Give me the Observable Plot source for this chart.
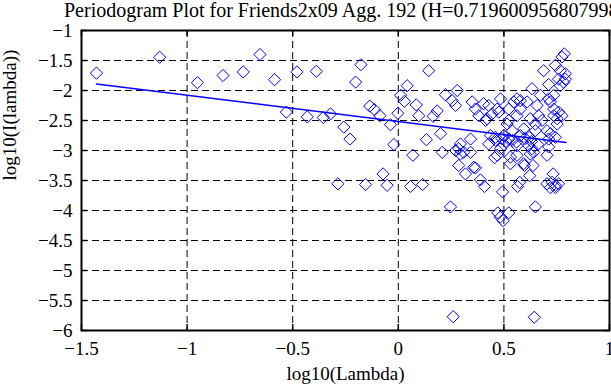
<!DOCTYPE html>
<html>
<head>
<meta charset="utf-8">
<script src="https://cdn.jsdelivr.net/npm/d3@7"></script>
<script src="https://cdn.jsdelivr.net/npm/@observablehq/plot@0.6"></script>
<style>
  body { margin: 0; background: white; }
  #title { font-family: "Liberation Serif", serif; font-size: 20px; height: 22px; line-height: 20px;
           padding-left: 64px; white-space: nowrap; overflow: hidden; width: 611px; box-sizing: border-box; }
</style>
</head>
<body>
<div id="title">Periodogram Plot for Friends2x09 Agg. 192 (H=0.719600956807998)</div>
<div id="chart"></div>
<script>
const xTicks = [-1.5, -1, -0.5, 0, 0.5, 1];
const yTicks = [-6, -5.5, -5, -4.5, -4, -3.5, -3, -2.5, -2, -1.5, -1];

const logLambda = [
  -1.429, -1.130, -0.951, -0.830, -0.734, -0.655, -0.586, -0.480, -0.388, -0.177,
  -0.202, 0.144, -0.530, -0.431, -0.355, -0.321, -0.258, -0.229, -0.135, -0.113,
  -0.087, -0.037, -0.002, 0.011, 0.029, 0.042, 0.085, 0.097, -0.021, 0.069,
  0.133, 0.184, 0.165, 0.200, 0.208, 0.223, -0.286, -0.155, -0.072, -0.053,
  0.058, 0.115, 0.247, 0.260, 0.644, 0.649, 0.494, 0.471, 0.523, 0.496,
  0.483, 0.389, 0.408, 0.365, 0.318, 0.286, 0.456, 0.531, 0.575, 0.565,
  0.597, 0.638, 0.622, 0.704, 0.733, 0.704, 0.728, 0.744, 0.759, 0.720,
  0.744, 0.294, 0.342, 0.625, 0.641,
  0.786, 0.775, 0.688, 0.744, 0.767, 0.791, 0.783, 0.759, 0.712, 0.633,
  0.279, 0.271, 0.255, 0.294, 0.342, 0.310, 0.286, 0.350, 0.365, 0.404,
  0.381, 0.428, 0.468, 0.444, 0.413, 0.436, 0.460, 0.468, 0.428, 0.523,
  0.547, 0.578, 0.562, 0.515, 0.539, 0.499, 0.523, 0.484, 0.562, 0.594,
  0.617, 0.633, 0.625, 0.649, 0.665, 0.681, 0.657, 0.673, 0.720, 0.736,
  0.759, 0.775, 0.752, 0.704, 0.712, 0.744, 0.752, 0.610, 0.578, 0.594,
  0.484, 0.271, 0.357,
  0.791, 0.767, 0.736, 0.712, 0.562, 0.736, 0.649, 0.720, 0.712, 0.578,
  0.562, 0.420, 0.476, 0.523, 0.460, 0.490, 0.510, 0.540, 0.560, 0.500,
  0.600, 0.630, 0.660, 0.620, 0.531
];
const logPeriodogram = [
  -1.71, -1.445, -1.87, -1.75, -1.69, -1.40, -1.82, -1.69, -1.68, -1.57,
  -1.86, -1.67, -2.36, -2.44, -2.45, -2.39, -2.61, -2.81, -2.26, -2.32,
  -2.42, -2.57, -2.38, -2.08, -2.18, -1.92, -2.24, -2.42, -2.90, -3.08,
  -2.82, -2.34, -2.43, -2.72, -3.03, -2.07, -3.555, -3.567, -3.39, -3.58,
  -3.60, -3.567, -3.94, -5.77, -5.78, -3.94, -3.69, -4.04, -4.04, -4.17,
  -4.11, -3.49, -3.60, -3.29, -3.39, -3.25, -3.12, -3.11, -3.53, -3.60,
  -3.25, -3.25, -3.42, -3.08, -3.39, -3.555, -3.53, -3.58, -3.555, -3.62,
  -3.62, -3.06, -3.03, -3.06, -3.03,
  -1.39, -1.44, -1.67, -1.58, -1.67, -1.72, -1.86, -1.81, -1.90, -1.97,
  -2.00, -2.25, -2.17, -2.89, -2.81, -3.03, -2.97, -2.19, -2.31, -2.22,
  -2.42, -2.25, -2.31, -2.39, -2.50, -2.75, -2.83, -3.08, -2.89, -2.31,
  -2.19, -2.17, -2.42, -2.56, -2.67, -2.75, -2.81, -2.97, -2.92, -3.22,
  -2.92, -2.97, -2.47, -2.56, -2.42, -2.50, -2.25, -2.08, -2.19, -2.31,
  -2.36, -2.42, -2.56, -2.67, -2.81, -2.78, -2.47, -2.19, -2.31, -2.64,
  -2.14, -3.00, -3.28,
  -1.81, -1.92, -2.08, -2.14, -2.14, -2.42, -2.67, -2.72, -2.94, -2.75,
  -3.08, -2.47, -2.36, -2.50, -2.78, -2.80, -2.85, -2.83, -2.86, -2.90,
  -2.80, -2.85, -2.90, -2.78, -3.22
];
const fitX = [-1.429, 0.794];
const fitY = [-1.89, -2.867];

const points = logLambda.map((x, i) => ({x, y: logPeriodogram[i]}));
const fit = fitX.map((x, i) => ({x, y: fitY[i]}));
const fmt = d => String(d).replace("-", "\u2212");

const chart = Plot.plot({
  width: 611,
  height: 363,
  marginLeft: 81,
  marginRight: 2,
  marginTop: 8,
  marginBottom: 55,
  style: {fontFamily: "'Liberation Serif', serif", fontSize: "19px", background: "white", color: "black", overflow: "visible"},
  x: {domain: [-1.5, 1], ticks: xTicks, tickSize: 0, tickPadding: 11, tickFormat: fmt, label: null},
  y: {domain: [-6, -1], ticks: yTicks, tickSize: 0, tickPadding: 9, tickFormat: fmt, label: null},
  marks: [
    Plot.gridX(xTicks, {stroke: "black", strokeOpacity: 1, strokeWidth: 1, strokeDasharray: "7,4"}),
    Plot.gridY(yTicks, {stroke: "black", strokeOpacity: 1, strokeWidth: 1, strokeDasharray: "7,4"}),
    Plot.tickX(xTicks, {x: d => d, insetTop: 294, stroke: "black", strokeWidth: 1.5}),
    Plot.tickX(xTicks, {x: d => d, insetBottom: 294, stroke: "black", strokeWidth: 1.5}),
    Plot.tickY(yTicks, {y: d => d, insetLeft: 522, stroke: "black", strokeWidth: 1.5}),
    Plot.tickY(yTicks, {y: d => d, insetRight: 522, stroke: "black", strokeWidth: 1.5}),
    Plot.line(fit, {x: "x", y: "y", stroke: "#0000ff", strokeWidth: 1.5}),
    Plot.dot(points, {x: "x", y: "y", symbol: "diamond2", r: 5.5, stroke: "#0000ff", strokeWidth: 1}),
    Plot.frame({stroke: "black", strokeWidth: 2}),
    Plot.text(["log10(Lambda)"], {frameAnchor: "bottom", dy: 43, lineAnchor: "middle", fontSize: 19}),
    Plot.text(["log10(I(lambda))"], {frameAnchor: "left", dx: -72, rotate: -90, lineAnchor: "middle", fontSize: 19})
  ]
});
document.getElementById("chart").appendChild(chart);
</script>
</body>
</html>
